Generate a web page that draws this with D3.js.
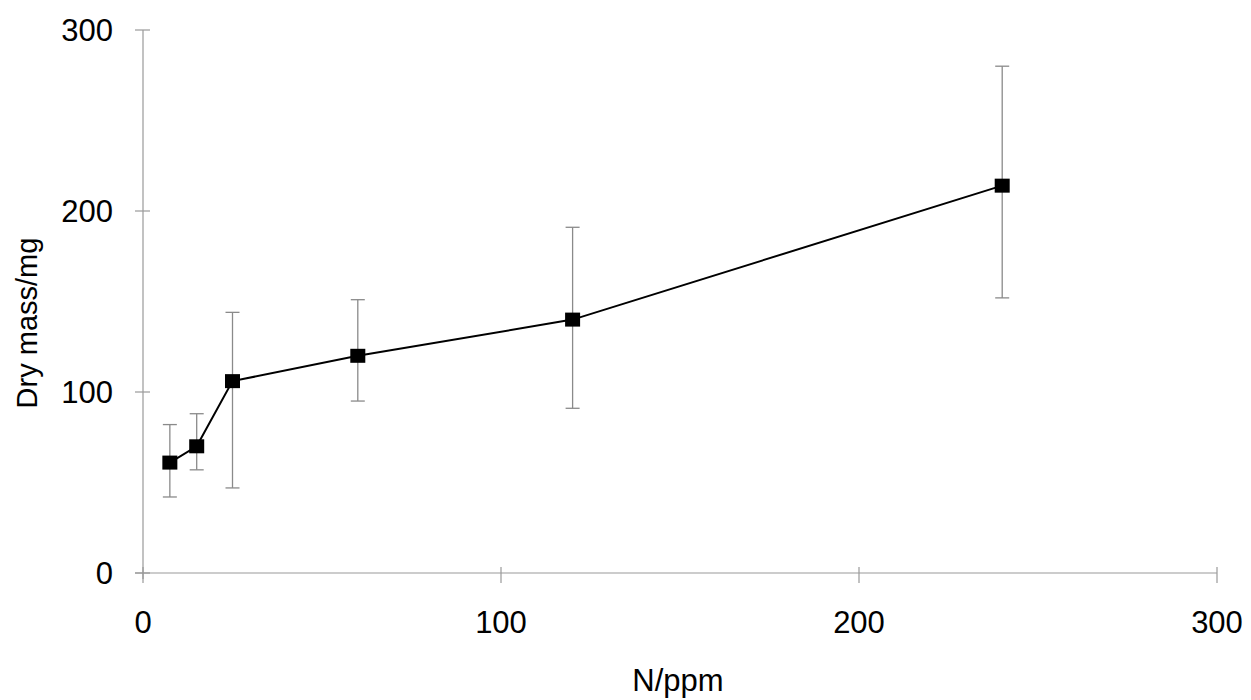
<!DOCTYPE html>
<html>
<head>
<meta charset="utf-8">
<script src="https://cdn.jsdelivr.net/npm/d3@7"></script>
<style>
  body { margin: 0; background: #fff; }
  svg { display: block; font-family: "Liberation Sans", Arial, sans-serif; }
</style>
</head>
<body>
<svg id="chart" width="1251" height="700"></svg>
<script>
// N concentration (ppm) and dry mass (mg), with error bar ends
var nPpm = [7.5, 15, 25, 60, 120, 240]
var dryMass = [61, 70, 106, 120, 140, 214]
var errHigh = [82, 88, 144, 151, 191, 280]
var errLow = [42, 57, 47, 95, 91, 152]

var xTicks = [0, 100, 200, 300]
var yTicks = [0, 100, 200, 300]

var data = nPpm.map(function(d, i) {
    return { x: d, y: dryMass[i], hi: errHigh[i], lo: errLow[i] }
})

var svg = d3.select('#chart')

var x = d3.scaleLinear().domain([0, 300]).range([143, 1217])
var y = d3.scaleLinear().domain([0, 300]).range([573, 30])

// axes (thin grey lines like the scanned figure)
var axisColour = '#999'

svg.append('line')
    .attr('x1', x(0)).attr('x2', x(0))
    .attr('y1', y(300)).attr('y2', y(0) + 6)
    .attr('stroke', axisColour).attr('stroke-width', 1.2)

svg.append('line')
    .attr('x1', x(0) - 8).attr('x2', x(300))
    .attr('y1', y(0)).attr('y2', y(0))
    .attr('stroke', axisColour).attr('stroke-width', 1.2)

svg.append('g')
    .selectAll('line')
    .data(yTicks)
    .join('line')
    .attr('x1', x(0) - 8).attr('x2', x(0) + 7)
    .attr('y1', function(d) { return y(d) })
    .attr('y2', function(d) { return y(d) })
    .attr('stroke', axisColour).attr('stroke-width', 1.2)

svg.append('g')
    .selectAll('line')
    .data(xTicks)
    .join('line')
    .attr('x1', function(d) { return x(d) })
    .attr('x2', function(d) { return x(d) })
    .attr('y1', y(0) - 6).attr('y2', y(0) + 10)
    .attr('stroke', axisColour).attr('stroke-width', 1.2)

svg.append('g')
    .selectAll('text')
    .data(yTicks)
    .join('text')
    .attr('x', 113)
    .attr('y', function(d) { return y(d) })
    .attr('dy', '0.36em')
    .attr('text-anchor', 'end')
    .style('font-size', '31px')
    .text(function(d) { return d })

svg.append('g')
    .selectAll('text')
    .data(xTicks)
    .join('text')
    .attr('x', function(d) { return x(d) })
    .attr('y', 633)
    .attr('text-anchor', 'middle')
    .style('font-size', '31px')
    .text(function(d) { return d })

svg.append('text')
    .attr('x', 678)
    .attr('y', 691)
    .attr('text-anchor', 'middle')
    .style('font-size', '31px')
    .text('N/ppm')

svg.append('text')
    .attr('transform', 'translate(37,323) rotate(-90)')
    .attr('text-anchor', 'middle')
    .style('font-size', '29px')
    .text('Dry mass/mg')

// error bars
var bars = svg.append('g')
    .attr('stroke', '#8a8a8a')
    .attr('stroke-width', 1.3)

bars.selectAll('line.stem')
    .data(data)
    .join('line')
    .attr('class', 'stem')
    .attr('x1', function(d) { return x(d.x) })
    .attr('x2', function(d) { return x(d.x) })
    .attr('y1', function(d) { return y(d.hi) })
    .attr('y2', function(d) { return y(d.lo) })

bars.selectAll('line.capHi')
    .data(data)
    .join('line')
    .attr('class', 'capHi')
    .attr('x1', function(d) { return x(d.x) - 7 })
    .attr('x2', function(d) { return x(d.x) + 7 })
    .attr('y1', function(d) { return y(d.hi) })
    .attr('y2', function(d) { return y(d.hi) })

bars.selectAll('line.capLo')
    .data(data)
    .join('line')
    .attr('class', 'capLo')
    .attr('x1', function(d) { return x(d.x) - 7 })
    .attr('x2', function(d) { return x(d.x) + 7 })
    .attr('y1', function(d) { return y(d.lo) })
    .attr('y2', function(d) { return y(d.lo) })

// connecting line and square markers
var line = d3.line()
    .x(function(d) { return x(d.x) })
    .y(function(d) { return y(d.y) })

svg.append('path')
    .datum(data)
    .attr('d', line)
    .attr('fill', 'none')
    .attr('stroke', '#000')
    .attr('stroke-width', 2)

svg.append('g')
    .selectAll('rect')
    .data(data)
    .join('rect')
    .attr('x', function(d) { return x(d.x) - 7.5 })
    .attr('y', function(d) { return y(d.y) - 7 })
    .attr('width', 15)
    .attr('height', 14)
    .attr('fill', '#000')
</script>
</body>
</html>
